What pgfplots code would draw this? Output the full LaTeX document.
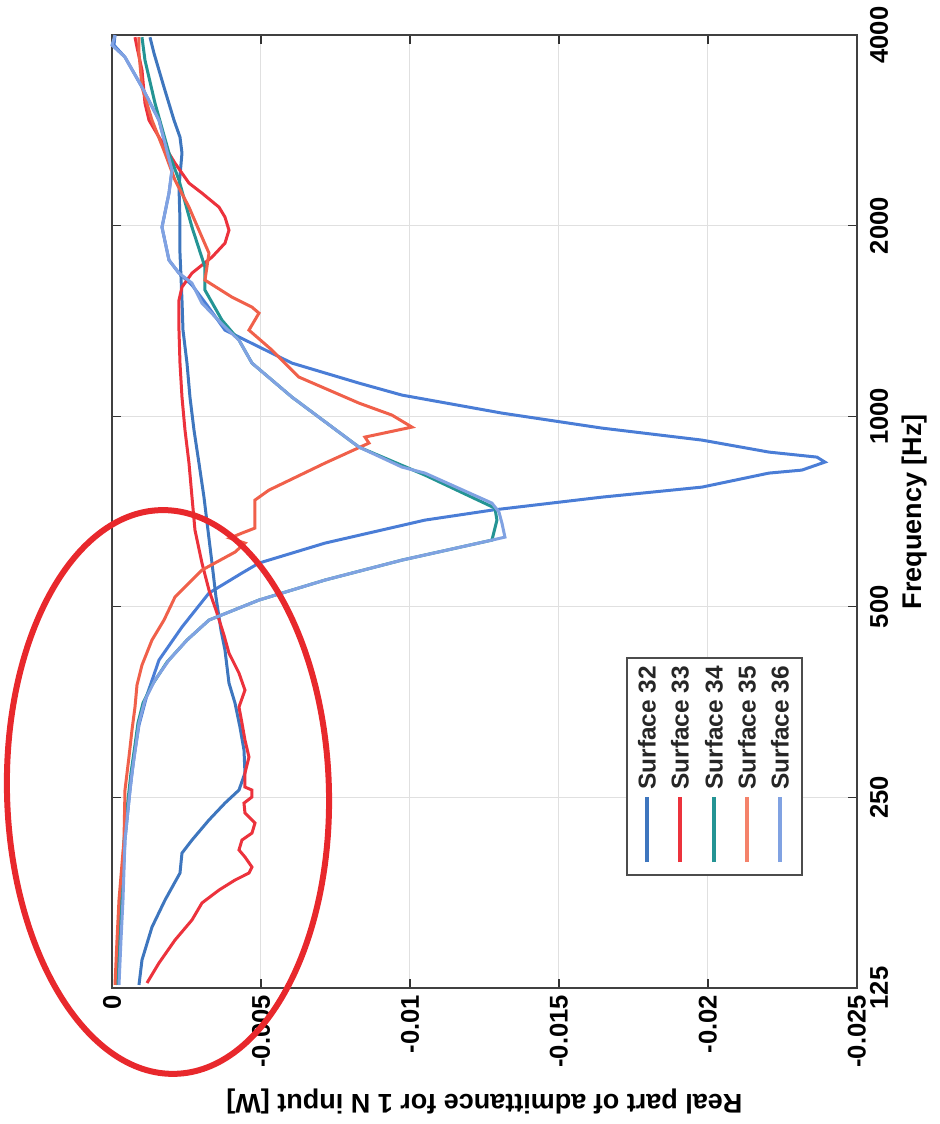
\documentclass[border=0pt]{standalone}
\usepackage{pgfplots}
\pgfplotsset{compat=1.18}
\usepackage{fontspec}
\setmainfont{Liberation Sans}
\definecolor{cA}{RGB}{62,118,190}
\definecolor{cB}{RGB}{236,50,60}
\definecolor{cT}{RGB}{36,148,148}
\definecolor{cD}{RGB}{240,96,74}
\definecolor{cDl}{RGB}{244,130,106}
\definecolor{cE}{RGB}{128,162,226}
\definecolor{cC}{RGB}{74,125,214}
\definecolor{cEll}{RGB}{232,40,44}
\newcommand{\tickfont}{\fontsize{12.8}{15}\selectfont\bfseries}
\newcommand{\labfont}{\fontsize{13.5}{16}\selectfont\bfseries}
\newcommand{\legfont}{\fontsize{12.2}{14}\selectfont\bfseries}
\tikzset{legline/.style={line width=2.2pt}, legtext/.style={rotate=90, anchor=west, font=\legfont, inner sep=0pt, text=black!85}}
\begin{document}
\begin{tikzpicture}
\begin{axis}[
  scale only axis, width=372.5pt, height=476.5pt,
  x dir=reverse, xmin=-0.025, xmax=0,
  ymode=log, ymin=125, ymax=4000,
  clip=false,
  scaled x ticks=false,
  axis line style={draw=black!75, line width=0.8pt},
  xtick={0,-0.005,-0.01,-0.015,-0.02,-0.025},
  xticklabels={0,-0.005,-0.01,-0.015,-0.02,-0.025},
  ytick={125,250,500,1000,2000,4000},
  yticklabels={125,250,500,1000,2000,4000},
  yminorticks=false, xminorticks=false,
  yticklabel pos=right,
  tick style={draw=black!80, line width=0.6pt},
  major tick length=4.5pt,
  tick align=inside,
  grid=major, major grid style={black!12, line width=0.5pt},
  xticklabel style={rotate=90, anchor=east, font=\tickfont},
  yticklabel style={rotate=90, anchor=north, font=\tickfont},
  yticklabel shift=3pt,
  xlabel={Real part of admittance for 1 N input [W]},
  ylabel={Frequency [Hz]},
  xlabel style={rotate=180, anchor=south, font=\labfont},
  xlabel shift=4pt,
  ylabel style={anchor=north, font=\labfont},
]
% unlabelled blue peak
\addplot[cC, line width=1.5pt] coordinates {
(-0.000201,126.4) (-0.000268,148.8) (-0.000336,172.1) (-0.000436,214.1) (-0.000604,256.8)
(-0.000738,289.6) (-0.000906,325.3) (-0.001174,362.8) (-0.001577,412.0) (-0.002349,464.6)
(-0.003255,525.7) (-0.004362,565.4) (-0.004933,586.3) (-0.007148,630.5) (-0.010503,685.5)
(-0.012752,710.9) (-0.016443,745.3) (-0.019799,772.9) (-0.022047,813.3) (-0.023154,822.2)
(-0.023926,846.5) (-0.023658,862.0) (-0.022047,877.9) (-0.019799,917.0) (-0.016443,957.9)
(-0.013087,1011.6) (-0.009732,1080.1) (-0.008289,1128.2) (-0.006040,1213.3) (-0.003792,1368.1)
(-0.003188,1498.3) (-0.002685,1611.3) (-0.002248,1683.2) (-0.001913,1764.7) (-0.001678,1989.7)
(-0.001913,2251.6) (-0.002013,2448.0) (-0.001577,2936.1) (-0.001007,3310.5) (-0.000436,3692.1)
(-0.000067,3856.8) (-0.000101,4000)
};
% Surface 32
\addplot[cA, line width=1.5pt] coordinates {
(-0.000906,126.4) (-0.001007,138.4) (-0.001342,156.0) (-0.001779,172.1) (-0.002282,189.9)
(-0.002349,204.2) (-0.002685,214.1) (-0.003255,230.3) (-0.003792,244.9) (-0.004262,256.8)
(-0.004463,273.2) (-0.004430,297.0) (-0.004295,322.9) (-0.004128,352.4) (-0.003926,379.0)
(-0.003792,427.3) (-0.003658,459.5) (-0.003490,518.1) (-0.003356,586.3) (-0.003221,661.1)
(-0.003087,745.3) (-0.002919,843.4) (-0.002752,951.0) (-0.002617,1072.2) (-0.002517,1213.3)
(-0.002383,1368.1) (-0.002349,1525.8) (-0.002282,1810.2) (-0.002282,2041.0) (-0.002248,2301.3)
(-0.002349,2604.1) (-0.002282,2760.1) (-0.002081,2936.1) (-0.001745,3310.5) (-0.001409,3746.2)
(-0.001275,3970.6)
};
% Surface 33
\addplot[cB, line width=1.5pt] coordinates {
(-0.001174,127.3) (-0.001577,136.9) (-0.002114,148.8) (-0.002685,160.1) (-0.003020,170.3)
(-0.003591,178.5) (-0.004128,185.1) (-0.004597,189.9) (-0.004698,194.1) (-0.004463,201.3)
(-0.004262,206.5) (-0.004362,214.1) (-0.004698,219.6) (-0.004799,227.8) (-0.004463,236.2)
(-0.004430,244.9) (-0.004698,250.4) (-0.004698,256.8) (-0.004463,259.6) (-0.004463,273.2)
(-0.004597,289.6) (-0.004463,308.0) (-0.004362,327.7) (-0.004262,347.3) (-0.004463,369.4)
(-0.004262,393.0) (-0.003926,422.6) (-0.003758,451.2) (-0.003490,494.2) (-0.003255,531.5)
(-0.003020,586.3) (-0.002785,661.1) (-0.002685,745.3) (-0.002584,843.4) (-0.002450,951.0)
(-0.002349,1072.2) (-0.002282,1213.3) (-0.002248,1368.1) (-0.002248,1525.8) (-0.002349,1599.6)
(-0.002685,1683.2) (-0.003356,1784.0) (-0.003792,1877.2) (-0.003926,1968.1) (-0.003792,2063.4)
(-0.003591,2139.8) (-0.003020,2251.6) (-0.002584,2335.0) (-0.002114,2511.1) (-0.001577,2760.1)
(-0.001242,2936.1) (-0.001107,3123.4) (-0.001007,3521.6) (-0.000839,3828.8) (-0.000772,3970.6)
};
% Surface 34
\addplot[cT, line width=1.5pt] coordinates {
(-0.000168,126.4) (-0.000235,148.8) (-0.000302,172.1) (-0.000403,214.1) (-0.000537,247.6)
(-0.000638,273.2) (-0.000772,302.5) (-0.000872,327.7) (-0.001040,352.4) (-0.001342,376.2)
(-0.001846,409.0) (-0.002517,443.1) (-0.003255,476.5) (-0.004933,512.5) (-0.007148,551.2)
(-0.009732,592.7) (-0.012752,637.4) (-0.012919,685.5) (-0.012852,716.1) (-0.010503,807.4)
(-0.008289,894.0) (-0.006040,1072.2) (-0.004698,1213.3) (-0.004262,1319.2) (-0.003691,1418.7)
(-0.003121,1582.3) (-0.003121,1720.3) (-0.002685,1989.7) (-0.002248,2360.6) (-0.001913,2604.1)
(-0.001443,3123.4) (-0.001107,3652.0) (-0.001007,3970.6)
};
% Surface 35
\addplot[cD, line width=1.5pt] coordinates {
(-0.000101,126.4) (-0.000168,148.8) (-0.000235,172.1) (-0.000403,214.1) (-0.000436,256.8)
(-0.000570,289.6) (-0.000671,319.4) (-0.000772,347.3) (-0.000839,376.2) (-0.001007,404.6)
(-0.001342,443.1) (-0.001745,476.5) (-0.002114,518.1) (-0.003020,571.6) (-0.004128,610.2)
(-0.004463,630.5) (-0.003960,642.1) (-0.004362,653.9) (-0.004799,665.9) (-0.004799,737.3)
(-0.005268,764.6) (-0.007148,843.4) (-0.008624,907.1) (-0.008490,927.1) (-0.010067,961.4)
(-0.009396,1004.3) (-0.008289,1049.1) (-0.006275,1153.1) (-0.005369,1272.1) (-0.004597,1368.1)
(-0.004933,1455.3) (-0.004698,1487.4) (-0.004027,1542.5) (-0.003121,1640.9) (-0.003255,1810.2)
(-0.003020,1918.6) (-0.002584,2139.8) (-0.002114,2360.6) (-0.001779,2604.1) (-0.001342,2936.1)
(-0.001007,3310.5) (-0.000906,3746.2) (-0.000906,3970.6)
};
% Surface 36
\addplot[cE, line width=1.5pt] coordinates {
(-0.000235,126.4) (-0.000302,148.8) (-0.000369,172.1) (-0.000436,214.1) (-0.000570,247.6)
(-0.000671,273.2) (-0.000805,302.5) (-0.000906,327.7) (-0.001107,356.2) (-0.001443,383.1)
(-0.001913,412.0) (-0.002517,443.1) (-0.003255,476.5) (-0.004933,512.5) (-0.007148,551.2)
(-0.009732,592.7) (-0.012752,637.4) (-0.013188,644.4) (-0.013087,678.1) (-0.012987,705.8)
(-0.012752,729.3) (-0.010503,813.3) (-0.009732,831.3) (-0.008289,894.0) (-0.006040,1072.2)
(-0.004698,1213.3) (-0.004262,1319.2) (-0.003792,1383.1) (-0.003020,1509.2) (-0.002685,1623.1)
(-0.002248,1683.2) (-0.001913,1764.7) (-0.001678,1989.7) (-0.001913,2251.6) (-0.002013,2448.0)
(-0.001577,2936.1) (-0.001007,3310.5) (-0.000436,3692.1) (0,3856.8) (-0.000101,4000)
};
% legend (rotated, drawn by hand)
\draw[black!70, line width=0.6pt, fill=white] ([xshift=257.5pt,yshift=56.5pt]axis cs:0,125) rectangle ([xshift=345pt,yshift=165pt]axis cs:0,125);
\draw[cA, legline] ([xshift=267.5pt,yshift=63pt]axis cs:0,125) -- ([xshift=267.5pt,yshift=95.5pt]axis cs:0,125);
\draw[cB, legline] ([xshift=284pt,yshift=63pt]axis cs:0,125) -- ([xshift=284pt,yshift=95.5pt]axis cs:0,125);
\draw[cT, legline] ([xshift=301pt,yshift=63pt]axis cs:0,125) -- ([xshift=301pt,yshift=95.5pt]axis cs:0,125);
\draw[cDl, legline] ([xshift=317.5pt,yshift=63pt]axis cs:0,125) -- ([xshift=317.5pt,yshift=95.5pt]axis cs:0,125);
\draw[cE, legline] ([xshift=334pt,yshift=63pt]axis cs:0,125) -- ([xshift=334pt,yshift=95.5pt]axis cs:0,125);
\node[legtext] at ([xshift=267.5pt,yshift=99pt]axis cs:0,125) {Surface 32};
\node[legtext] at ([xshift=284pt,yshift=99pt]axis cs:0,125) {Surface 33};
\node[legtext] at ([xshift=301pt,yshift=99pt]axis cs:0,125) {Surface 34};
\node[legtext] at ([xshift=317.5pt,yshift=99pt]axis cs:0,125) {Surface 35};
\node[legtext] at ([xshift=334pt,yshift=99pt]axis cs:0,125) {Surface 36};
% annotation ellipse
\draw[cEll, line width=3pt, rotate around={1.5:(axis cs:-0.001879,255)}] (axis cs:-0.001879,255) ellipse [x radius=80.5pt, y radius=141pt];
% page extent
\path ([xshift=-55pt,yshift=-68pt]axis cs:0,125) rectangle ([xshift=41.5pt,yshift=17.5pt]axis cs:-0.025,4000);
\end{axis}
\end{tikzpicture}
\end{document}
